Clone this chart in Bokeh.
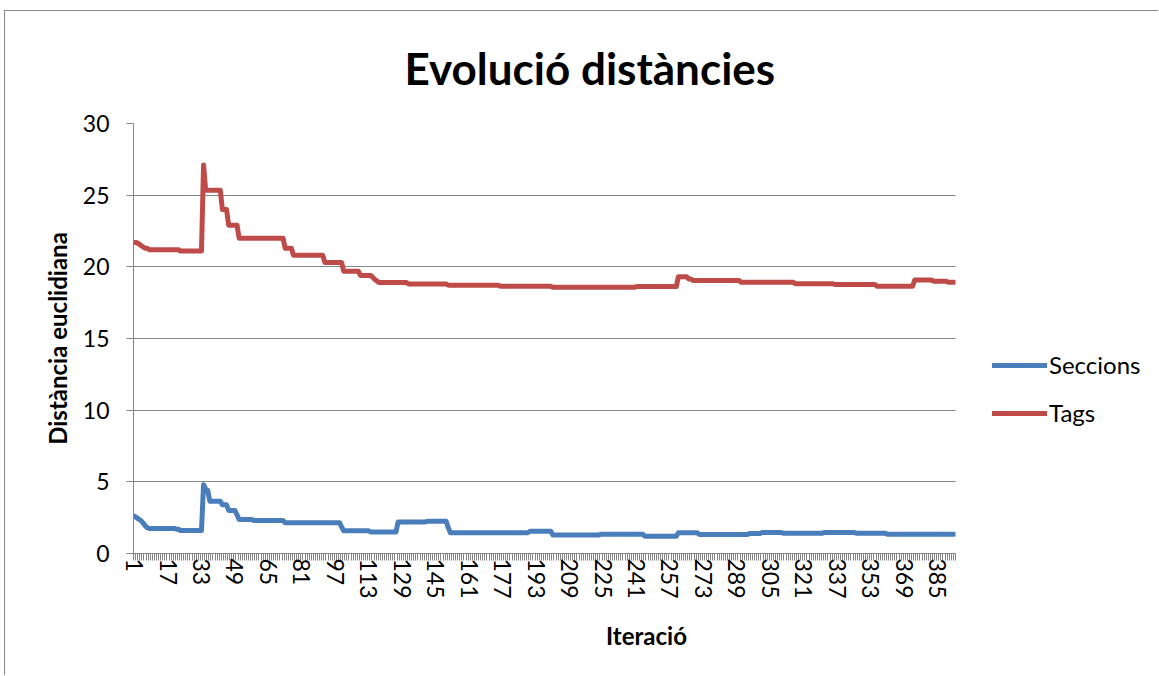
import numpy as np
from bokeh.plotting import figure
from bokeh.models import (FixedTicker, Legend, LegendItem, ColumnDataSource, Range1d,
                          BoxAnnotation)
from bokeh.embed import file_html
from bokeh.resources import INLINE

# ---------------- data ----------------
title_text = "Evolució distàncies"
x_title = "Iteració"
y_title = "Distància euclidiana"
series_names = ["Seccions", "Tags"]
n_iterations = 393
x_tick_labels = [1, 17, 33, 49, 65, 81, 97, 113, 129, 145, 161, 177, 193, 209,
                 225, 241, 257, 273, 289, 305, 321, 337, 353, 369, 385]
y_ticks = [0, 5, 10, 15, 20, 25, 30]

# values are stepwise (plateaus): level and number of iterations it lasts
tags_levels = [21.7, 21.6, 21.5, 21.4, 21.3, 21.2, 21.1, 27.1, 25.35, 24.0,
               22.9, 22.0, 21.3, 20.8, 20.3, 19.7, 19.4, 19.25, 19.1, 19.0,
               18.9, 18.8, 18.72, 18.65, 18.57, 18.62, 19.3, 19.15, 19.05, 18.92,
               18.82, 18.76, 18.65, 19.08, 19.0, 18.92]
tags_counts = [2, 1, 1, 1, 2, 15, 11, 1, 8, 3,
               5, 22, 4, 15, 9, 8, 6, 1, 1, 1,
               14, 19, 25, 25, 40, 20, 5, 2, 23, 26,
               19, 20, 18, 9, 7, 4]

seccions_levels = [2.6, 2.5, 2.4, 2.3, 2.15, 1.95, 1.8, 1.75, 1.7, 1.6,
                   4.8, 4.5, 4.4, 3.65, 3.4, 3.0, 2.7, 2.37, 2.3, 2.15,
                   1.85, 1.58, 1.5, 2.2, 2.25, 1.8, 1.45, 1.55, 1.29, 1.35,
                   1.2, 1.45, 1.33, 1.4, 1.47, 1.42, 1.47, 1.42, 1.35]
seccions_counts = [1, 1, 1, 1, 1, 1, 1, 13, 2, 11,
                   1, 1, 1, 6, 3, 4, 1, 7, 15, 27,
                   1, 13, 13, 14, 10, 1, 38, 11, 23, 21,
                   16, 10, 24, 6, 10, 20, 15, 15, 33]

# ---------------- build ----------------
iters = np.arange(1, n_iterations + 1)
tags = np.repeat(tags_levels, tags_counts)
seccions = np.repeat(seccions_levels, seccions_counts)
src = ColumnDataSource(dict(x=iters, tags=tags, seccions=seccions))

FONT = "Lato"
GRAY = "#868686"
BLUE = "#4A7EBB"
RED = "#BE4B48"

FIG_W, FIG_H = 1154, 665
BORDER_L, BORDER_T, BORDER_B = 128, 112, 123
PLOT_W = 822            # width of the drawn plot area
FRAME_W = FIG_W - BORDER_L  # frame extends to the right edge (room for legend)
x_end = 0.5 + n_iterations * FRAME_W / PLOT_W

p = figure(width=FIG_W, height=FIG_H, output_backend="svg", toolbar_location=None,
           x_range=Range1d(0.5, x_end), y_range=Range1d(0, 30),
           min_border_left=BORDER_L, min_border_right=0, min_border_top=BORDER_T,
           min_border_bottom=BORDER_B)
p.margin = (10, 0, 0, 4)
p.styles = {"border-top": "1px solid #8a8a8a", "border-left": "1px solid #8a8a8a"}
p.outline_line_color = None
p.background_fill_color = "white"
p.border_fill_color = "white"

p.title.text = title_text
p.title.text_font = FONT
p.title.text_font_size = "44px"
p.title.text_font_style = "bold"
p.title.text_color = "black"
p.title.align = "left"
p.title.offset = 271
p.title.vertical_align = "top"
p.title.standoff = 56

r1 = p.line("x", "seccions", source=src, line_color=BLUE, line_width=5,
            line_join="round", line_cap="round")
r2 = p.line("x", "tags", source=src, line_color=RED, line_width=5,
            line_join="round", line_cap="round")

# y axis
ya = p.yaxis[0]
ya.ticker = FixedTicker(ticks=y_ticks)
ya.axis_line_color = GRAY
ya.major_tick_line_color = GRAY
ya.major_tick_out = 7
ya.major_tick_in = 0
ya.minor_tick_line_color = None
ya.major_label_text_font = FONT
ya.major_label_text_font_size = "23px"
ya.major_label_text_color = "black"
ya.major_label_standoff = 17
ya.axis_label = y_title
ya.axis_label_text_font = FONT
ya.axis_label_text_font_size = "24px"
ya.axis_label_text_font_style = "bold"
ya.axis_label_text_color = "black"
ya.axis_label_standoff = 8

# x axis
xa = p.xaxis[0]
xa.bounds = (0.5, n_iterations + 0.5)
xa.ticker = FixedTicker(ticks=x_tick_labels,
                        minor_ticks=[i + 0.5 for i in range(0, n_iterations + 1)])
xa.axis_line_color = GRAY
xa.major_tick_line_color = None
xa.major_tick_out = 0
xa.major_tick_in = 0
xa.minor_tick_line_color = GRAY
xa.minor_tick_out = 7
xa.minor_tick_in = 0
xa.major_label_orientation = "vertical"
xa.major_label_text_font = FONT
xa.major_label_text_font_size = "23px"
xa.major_label_text_color = "black"
xa.major_label_standoff = -2
xa.axis_label = x_title
xa.axis_label_text_font = FONT
xa.axis_label_text_font_size = "24px"
xa.axis_label_text_font_style = "bold"
xa.axis_label_text_color = "black"
xa.axis_label_standoff = 19

p.xgrid.grid_line_color = None
p.ygrid.grid_line_color = GRAY
p.ygrid.grid_line_width = 1
p.ygrid.ticker = FixedTicker(ticks=y_ticks)

# blank area right of the plot area (legend zone)
mask = BoxAnnotation(left=n_iterations + 0.5, fill_color="white", fill_alpha=1.0,
                     line_color=None)
p.add_layout(mask)

legend = Legend(items=[LegendItem(label=series_names[0], renderers=[r1]),
                       LegendItem(label=series_names[1], renderers=[r2])],
                location=(859, 126), orientation="vertical")
legend.border_line_color = None
legend.background_fill_alpha = 0
legend.glyph_width = 55
legend.glyph_height = 24
legend.label_height = 24
legend.label_text_font = FONT
legend.label_text_font_size = "24px"
legend.label_text_color = "black"
legend.label_standoff = 2
legend.spacing = 19
legend.padding = 0
legend.margin = 0
p.add_layout(legend)

open("out.html", "w").write(file_html(p, INLINE))
